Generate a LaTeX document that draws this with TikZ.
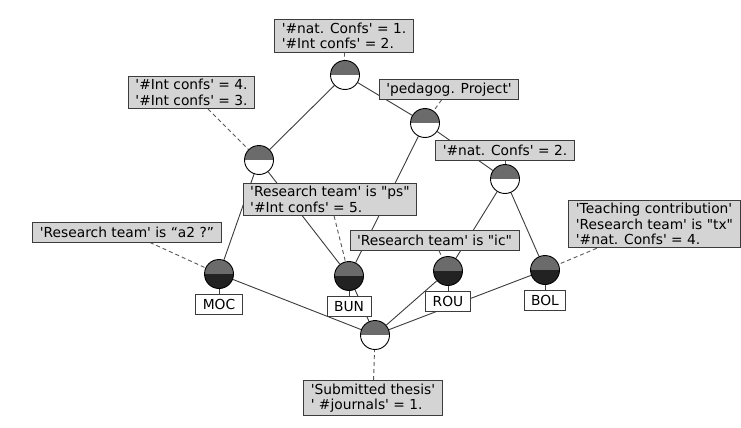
\documentclass[tikz,border=0pt]{standalone}
\usepackage{fontspec}
\newfontfamily\lblfont{DejaVu Sans}
\usetikzlibrary{positioning,backgrounds}

\definecolor{intentgray}{HTML}{6B6B6B}
\definecolor{extentdark}{HTML}{222222}
\definecolor{boxgray}{HTML}{D4D4D4}
\definecolor{linegray}{HTML}{3C3C3C}

\begin{document}
\begin{tikzpicture}[x=1pt,y=-1pt,
  every node/.style={font=\lblfont\fontsize{13.8}{15.5}\selectfont},
  concept/.style={circle,draw=black,line width=0.9pt,fill=white,minimum size=29pt,inner sep=0pt,
    path picture={\fill[intentgray] (path picture bounding box.west) rectangle (path picture bounding box.north east);}},
  objconcept/.style={concept,
    path picture={\fill[intentgray] (path picture bounding box.west) rectangle (path picture bounding box.north east);
                  \fill[extentdark] (path picture bounding box.west) rectangle (path picture bounding box.south east);}},
  attr/.style={draw=linegray,fill=boxgray,line width=0.9pt,align=left,inner xsep=7pt,inner ysep=3pt,minimum height=20pt},
  obj/.style={draw=linegray,fill=white,line width=0.9pt,inner xsep=7pt,inner ysep=3pt,minimum height=20pt},
  lattice/.style={draw=linegray,line width=0.9pt},
  tag/.style={draw=black!65,line width=0.9pt,dash pattern=on 4pt off 3pt}]
\useasboundingbox (0,0) rectangle (741,428);

% concepts of the lattice
\node[concept] (ctop) at (345,75) {};
\node[concept] (cped) at (425,123) {};
\node[concept] (cint) at (259,160) {};
\node[concept] (cnat) at (505,179) {};
\node[objconcept] (cmoc) at (219,274) {};
\node[objconcept] (cbun) at (349,276) {};
\node[objconcept] (crou) at (448,271) {};
\node[objconcept] (cbol) at (545,270) {};
\node[concept] (cbot) at (375,335) {};

% object labels
\node[obj, below=5pt of cmoc] (lmoc) {MOC};
\node[obj, below=5pt of cbun] (lbun) {BUN};
\node[obj, below=5pt of crou] (lrou) {ROU};
\node[obj, below=5pt of cbol] (lbol) {BOL};

% attribute labels
\node[attr] (atop) at (344,36) {'\#nat. Confs' = 1.\\'\#Int confs' = 2.};
\node[attr] (aint) at (191.5,92.5) {'\#Int confs' = 4.\\'\#Int confs' = 3.};
\node[attr] (aped) at (449,89.5) {'pedagog. Project'};
\node[attr] (anat) at (505,150.5) {'\#nat. Confs' = 2.};
\node[attr] (aps) at (330,199.5) {'Research team' is "ps"\\'\#Int confs' = 5.};
\node[attr] (aic) at (434.5,240.5) {'Research team' is "ic"};
\node[attr] (aatwo) at (127,232) {'Research team' is “a2 ?”};
\node[attr] (atx) at (654.5,224) {'Teaching contribution'\\'Research team' is "tx"\\'\#nat. Confs' = 4.};
\node[attr] (athesis) at (373,398) {'Submitted thesis'\\' \#journals' = 1.};

\begin{pgfonlayer}{background}
\fill[white] (0,0) rectangle (741,428);
% lattice order
\path (ctop) edge[lattice] (cint);
\path (ctop) edge[lattice] (cped);
\path (cped) edge[lattice] (cnat);
\path (cped) edge[lattice] (cbun);
\path (cint) edge[lattice] (cmoc);
\path (cint) edge[lattice] (cbun);
\path (cnat) edge[lattice] (crou);
\path (cnat) edge[lattice] (cbol);
\path (cmoc) edge[lattice] (cbot);
\path (cbun) edge[lattice] (cbot);
\path (crou) edge[lattice] (cbot);
\path (cbol) edge[lattice] (cbot);
% objects
\path (cmoc) edge[lattice] (lmoc);
\path (cbun) edge[lattice] (lbun);
\path (crou) edge[lattice] (lrou);
\path (cbol) edge[lattice] (lbol);
% attributes
\path (atop) edge[tag] (ctop);
\path (aint) edge[tag] (cint);
\path (aped) edge[tag] (cped);
\path (anat) edge[tag] (cnat);
\path (aps) edge[tag] (cbun);
\path (aic) edge[tag] (crou);
\path (aatwo) edge[tag] (cmoc);
\path (atx) edge[tag] (cbol);
\path (athesis) edge[tag] (cbot);
\end{pgfonlayer}
\end{tikzpicture}
\end{document}
